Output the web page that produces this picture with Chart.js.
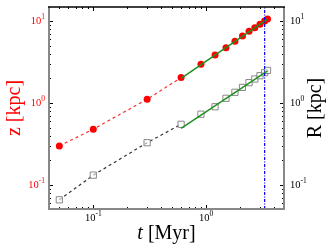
<!DOCTYPE html>
<html>
<head>
<meta charset="utf-8">
<script src="https://cdn.jsdelivr.net/npm/chart.js@4/dist/chart.umd.min.js"></script>
<style>
  html, body { margin: 0; padding: 0; background: #fff; }
  #c { display: block; }
</style>
</head>
<body>
<canvas id="c" width="334" height="251"></canvas>
<script>
// temps (Myr)
const tempos = [0.05, 0.1, 0.3, 0.6, 0.9, 1.2, 1.5, 1.8, 2.1, 2.4, 2.7, 3.0, 3.3, 3.5];
// altura z (kpc)
const valoresZ = [0.30, 0.48, 1.11, 2.04, 2.96, 3.85, 4.72, 5.65, 6.56, 7.49, 8.28, 9.12, 10.0, 10.6];
// raio R (kpc)
const valoresR = [0.066, 0.132, 0.328, 0.55, 0.73, 0.90, 1.14, 1.35, 1.55, 1.77, 1.96, 2.15, 2.34, 2.50];
// ajustes (lei de potencia)
const temposAjuste = [0.6, 3.5];
const ajusteZ = [2.0, 10.5];
const ajusteR = [0.49, 2.47];
const tempoLinha = 3.3;
const nDashed = 4; // pontos ligados pela linha tracejada

const X_MIN = 0.0405, X_MAX = 4.9;
const Y_MIN = 0.051, Y_MAX = 14.8;

function pares(xs, ys) {
    return xs.map((x, i) => ({ x: x, y: ys[i] }));
}

const plugEixos = {
    id: 'eixos',
    afterDraw(chart) {
        const ctx = chart.ctx;
        const a = chart.chartArea;
        const sx = chart.scales.x, sy = chart.scales.y;
        ctx.save();

        // ticks
        ctx.strokeStyle = '#000';
        ctx.lineWidth = 1;
        for (let e = -2; e <= 1; e++) {
            for (let m = 1; m <= 9; m++) {
                const v = m * Math.pow(10, e);
                const len = m === 1 ? 4 : 2;
                if (v >= X_MIN && v <= X_MAX) {
                    const px = Math.round(sx.getPixelForValue(v)) + 0.5;
                    ctx.beginPath();
                    ctx.moveTo(px, a.bottom); ctx.lineTo(px, a.bottom - len);
                    ctx.moveTo(px, a.top); ctx.lineTo(px, a.top + len);
                    ctx.stroke();
                }
                if (v >= Y_MIN && v <= Y_MAX) {
                    const py = Math.round(sy.getPixelForValue(v)) + 0.5;
                    ctx.beginPath();
                    ctx.moveTo(a.left, py); ctx.lineTo(a.left + len, py);
                    ctx.moveTo(a.right, py); ctx.lineTo(a.right - len, py);
                    ctx.stroke();
                }
            }
        }

        // bordas
        ctx.lineWidth = 2;
        ctx.strokeStyle = '#888';
        ctx.beginPath();
        ctx.moveTo(a.left, a.top); ctx.lineTo(a.left, a.bottom);
        ctx.lineTo(a.right, a.bottom); ctx.lineTo(a.right, a.top);
        ctx.stroke();
        ctx.strokeStyle = '#000';
        ctx.lineWidth = 1.5;
        ctx.beginPath();
        ctx.moveTo(a.left - 1, a.top); ctx.lineTo(a.right + 1, a.top);
        ctx.stroke();

        // rotulos dos ticks
        function pot(txt, exp, x, y, align, cor) {
            ctx.fillStyle = cor;
            ctx.textBaseline = 'middle';
            ctx.font = '10.5px "Liberation Serif", serif';
            const w1 = ctx.measureText(txt).width;
            ctx.font = '7.5px "Liberation Serif", serif';
            const w2 = ctx.measureText(exp).width;
            let x0 = x;
            if (align === 'right') x0 = x - w1 - w2;
            if (align === 'center') x0 = x - (w1 + w2) / 2;
            ctx.textAlign = 'left';
            ctx.font = '10.5px "Liberation Serif", serif';
            ctx.fillText(txt, x0, y);
            ctx.font = '7.5px "Liberation Serif", serif';
            ctx.fillText(exp, x0 + w1, y - 4);
        }
        [[10, '1'], [1, '0'], [0.1, '-1']].forEach(([v, ex]) => {
            const py = sy.getPixelForValue(v);
            pot('10', ex, a.left - 4, py, 'right', '#ff0000');
            pot('10', ex, a.right + 6, py, 'left', '#000');
        });
        [[0.1, '-1'], [1, '0']].forEach(([v, ex]) => {
            pot('10', ex, sx.getPixelForValue(v), a.bottom + 9, 'center', '#000');
        });

        // titulos
        ctx.textBaseline = 'middle';
        ctx.textAlign = 'center';
        const cy = (a.top + a.bottom) / 2;
        ctx.font = '20px "Liberation Serif", serif';
        ctx.save();
        ctx.translate(15, cy);
        ctx.rotate(-Math.PI / 2);
        ctx.fillStyle = '#ff0000';
        ctx.fillText('z [kpc]', 0, 0);
        ctx.restore();
        ctx.save();
        ctx.translate(316, cy);
        ctx.rotate(-Math.PI / 2);
        ctx.fillStyle = '#000';
        ctx.fillText('R [kpc]', 0, 0);
        ctx.restore();

        const cx = (a.left + a.right) / 2;
        ctx.fillStyle = '#000';
        ctx.font = 'italic 20px "Liberation Serif", serif';
        const wt = ctx.measureText('t').width;
        ctx.font = '20px "Liberation Serif", serif';
        const wr = ctx.measureText(' [Myr]').width;
        const x0 = cx - (wt + wr) / 2;
        ctx.textAlign = 'left';
        ctx.font = 'italic 20px "Liberation Serif", serif';
        ctx.fillText('t', x0, 234);
        ctx.font = '20px "Liberation Serif", serif';
        ctx.fillText(' [Myr]', x0 + wt, 234);
        ctx.restore();
    }
};

new Chart(document.getElementById('c'), {
    type: 'scatter',
    data: {
        datasets: [
            {
                data: pares(tempos.slice(0, nDashed), valoresZ.slice(0, nDashed)),
                showLine: true, borderColor: '#ff3030', borderWidth: 1.2, borderDash: [3, 3],
                pointRadius: 0, order: 5
            },
            {
                data: pares(tempos.slice(0, nDashed), valoresR.slice(0, nDashed)),
                showLine: true, borderColor: '#333', borderWidth: 1.2, borderDash: [3, 3],
                pointRadius: 0, order: 5
            },
            {
                data: pares(tempos, valoresZ),
                pointStyle: 'circle', pointRadius: 3.5,
                backgroundColor: '#ff0000', borderColor: '#ff0000', borderWidth: 0, order: 4
            },
            {
                data: pares(tempos, valoresR),
                pointStyle: 'rect', pointRadius: 4.4,
                backgroundColor: 'rgba(255,255,255,0.6)', borderColor: '#888', borderWidth: 1, order: 4
            },
            {
                data: pares(temposAjuste, ajusteZ),
                showLine: true, borderColor: '#1f8f1f', borderWidth: 1.5,
                pointRadius: 0, order: 2
            },
            {
                data: pares(temposAjuste, ajusteR),
                showLine: true, borderColor: '#1f8f1f', borderWidth: 1.5,
                pointRadius: 0, order: 2
            },
            {
                data: [{ x: tempoLinha, y: Y_MIN }, { x: tempoLinha, y: Y_MAX }],
                showLine: true, borderColor: '#0000ff', borderWidth: 1.2, borderDash: [3, 1.5, 1, 1.5],
                pointRadius: 0, order: 1
            }
        ]
    },
    options: {
        responsive: false,
        animation: false,
        layout: { padding: { left: 49, right: 50, top: 7, bottom: 42 } },
        plugins: { legend: { display: false }, tooltip: { enabled: false } },
        scales: {
            x: { type: 'logarithmic', min: X_MIN, max: X_MAX, display: false },
            y: { type: 'logarithmic', min: Y_MIN, max: Y_MAX, display: false }
        }
    },
    plugins: [plugEixos]
});
</script>
</body>
</html>
